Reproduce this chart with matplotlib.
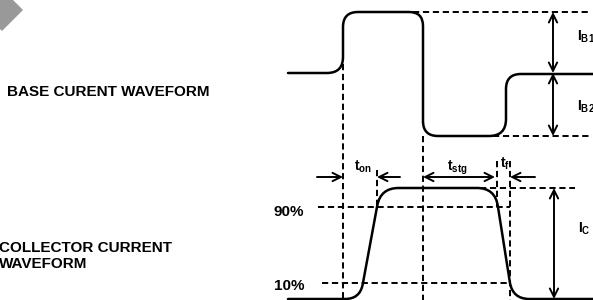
import numpy as np
import matplotlib
matplotlib.use("Agg")
import matplotlib.pyplot as plt
from matplotlib.path import Path
from matplotlib.patches import PathPatch, Polygon

plt.rcParams['font.family'] = ['Liberation Sans', 'DejaVu Sans']
plt.rcParams['mathtext.fontset'] = 'custom'
plt.rcParams['mathtext.rm'] = 'Liberation Sans'
plt.rcParams['mathtext.bf'] = 'Liberation Sans:bold'
plt.rcParams['mathtext.it'] = 'Liberation Sans:italic'

# ---------------- data (diagram units: time -> x, current level -> y) ----------------
# base current waveform: corner points and corner rounding
base_t = [288, 343, 343, 423, 423, 506, 506, 593]
base_i = [73, 73, 12, 12, 136, 136, 74, 74]
base_r = [0, 16, 15, 14, 15, 17, 15, 0]

# collector current waveform
coll_t = [288, 360, 380.5, 495, 512.5, 593]
coll_i = [299, 299, 188, 188, 299, 299]
coll_r = [0, 15, 18, 18, 17, 0]

# levels
lvl_ib1, lvl_ib0, lvl_ib2 = 12, 73, 136
lvl_ic_top, lvl_ic_0 = 188, 299
lvl_90, lvl_10 = 207, 283
lvl_time_arrows = 177

# time markers
t_on_start, t_on_end = 343, 377
t_stg_start, t_stg_end = 423, 497
t_f_end = 510

pct_labels = ["90%", "10%"]
title_base = "BASE CURENT WAVEFORM"
title_coll = "COLLECTOR CURRENT\nWAVEFORM"

# ---------------- figure ----------------
fig = plt.figure(figsize=(5.93, 3.0), dpi=100)
ax = fig.add_axes([0, 0, 1, 1])
ax.set_xlim(0, 593)
ax.set_ylim(300, 0)
ax.axis('off')


def rounded_path(xs, ys, rs):
    pts = np.column_stack([xs, ys]).astype(float)
    verts = [pts[0]]
    codes = [Path.MOVETO]
    for k in range(1, len(pts) - 1):
        P, A, B = pts[k], pts[k - 1], pts[k + 1]
        r = rs[k]
        da = (A - P) / np.linalg.norm(A - P)
        db = (B - P) / np.linalg.norm(B - P)
        if np.allclose(da, -db) or r == 0:
            verts.append(P); codes.append(Path.LINETO)
            continue
        verts += [P + r * da, P, P + r * db]
        codes += [Path.LINETO, Path.CURVE3, Path.CURVE3]
    verts.append(pts[-1]); codes.append(Path.LINETO)
    return Path(verts, codes)


solid_kw = dict(fc='none', ec='black', lw=1.8, capstyle='round', joinstyle='round')
ax.add_patch(PathPatch(rounded_path(base_t, base_i, base_r), **solid_kw))
ax.add_patch(PathPatch(rounded_path(coll_t, coll_i, coll_r), **solid_kw))

dash_kw = dict(color='black', lw=1.4, linestyle=(0, (3.2, 1.9)))
# base dashed references
ax.plot([413, 590], [lvl_ib1, lvl_ib1], **dash_kw)
ax.plot([493, 590], [lvl_ib2, lvl_ib2], **dash_kw)
ax.plot([t_on_start, t_on_start], [64, 300], **dash_kw)
ax.plot([t_stg_start, t_stg_start], [lvl_ib2, 300], **dash_kw)
# collector dashed references
ax.plot([t_on_end, t_on_end], [170, lvl_90], **dash_kw)
ax.plot([t_stg_end, t_stg_end], [161, lvl_90], **dash_kw)
ax.plot([t_f_end, t_f_end], [161, 300], **dash_kw)
ax.plot([318, t_f_end], [lvl_90, lvl_90], **dash_kw)
ax.plot([322, t_f_end], [lvl_10, lvl_10], **dash_kw)
ax.plot([480, 575], [lvl_ic_top, lvl_ic_top], **dash_kw)


def arrow(x0, y0, x1, y1, style='->'):
    ax.annotate('', xy=(x1, y1), xytext=(x0, y0),
                arrowprops=dict(arrowstyle=style, lw=1.4, color='black',
                                shrinkA=0, shrinkB=0, mutation_scale=15))


y = lvl_time_arrows
arrow(317, y, t_on_start, y)
arrow(400, y, t_on_end, y)
arrow(t_stg_start, y, t_stg_end - 2, y, '<->')
arrow(535, y, t_f_end, y)
arrow(553, lvl_ib1, 553, lvl_ib0, '<->')
arrow(553, lvl_ib0, 553, lvl_ib2, '<->')
arrow(554, lvl_ic_top, 554, lvl_ic_0, '<->')

# labels
tk = dict(fontsize=10, color='black', va='baseline', ha='left')
ax.text(354, 171, r'$\mathbf{t}_{\mathbf{on}}$', **tk)
ax.text(447, 171, r'$\mathbf{t}_{\mathbf{stg}}$', **tk)
ax.text(500, 168, r'$\mathbf{t}_{\mathbf{f}}$', **tk)
ax.text(577, 41, r'$\mathbf{I}_{\mathbf{B1}}$', **tk)
ax.text(577, 111, r'$\mathbf{I}_{\mathbf{B2}}$', **tk)
ax.text(578, 233, r'$\mathbf{I}_{\mathbf{C}}$', **tk)

lk = dict(fontsize=11, fontweight='bold', color='black', ha='left', va='center')
ax.text(274, 212, pct_labels[0], **lk)
ax.text(274, 286, pct_labels[1], **lk)
ax.text(7, 92, title_base, **lk)
ax.text(-1, 256, title_coll, linespacing=1.2, **lk)

# decorative grey diamond in the corner
cx, cy, rr = 2, 10, 21
ax.add_patch(Polygon([[cx + rr, cy], [cx, cy + rr], [cx - rr, cy], [cx, cy - rr]],
                     closed=True, fc='#999999', ec='none'))

fig.savefig('out.png', dpi=100)
